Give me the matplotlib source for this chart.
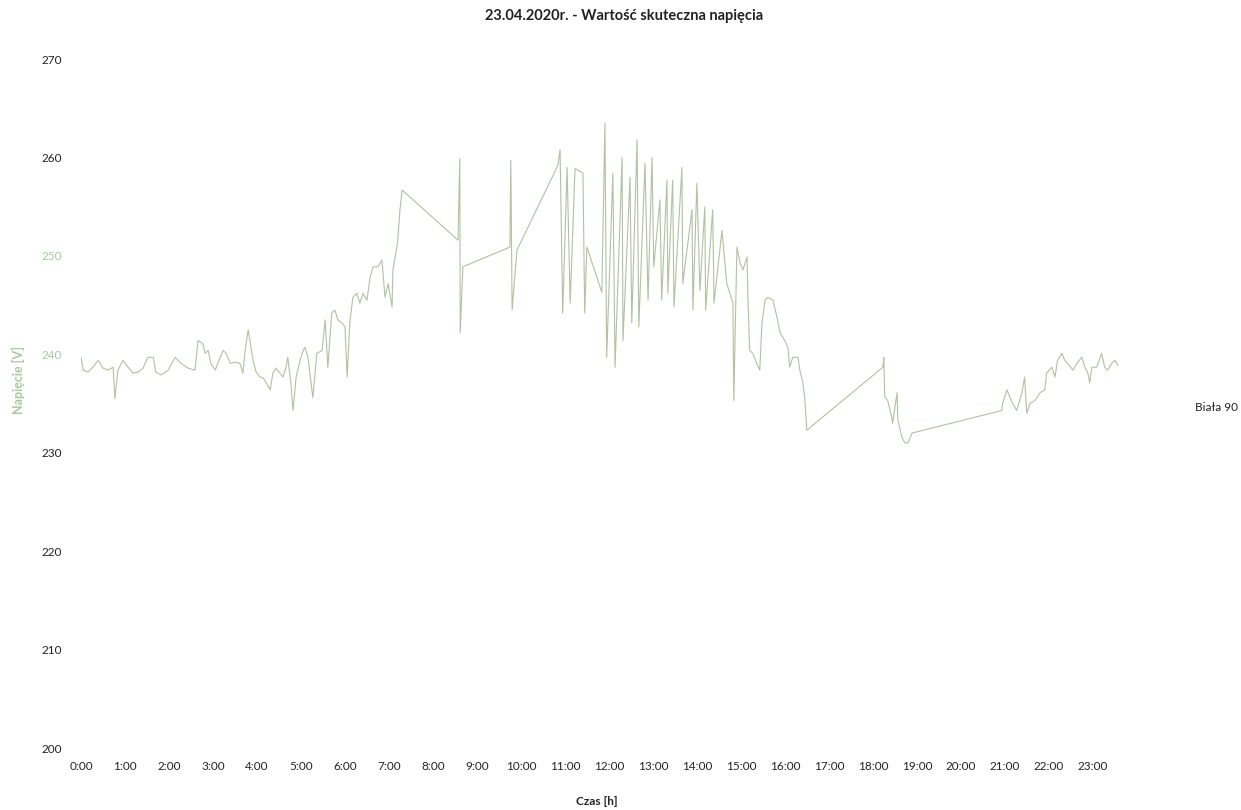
import matplotlib
matplotlib.use("Agg")
import matplotlib.pyplot as plt

plt.rcParams['font.family'] = ['Lato', 'DejaVu Sans']

title = "23.04.2020r. - Wartość skuteczna napięcia"
series_name = "Biała 90"
x_label = "Czas [h]"
y_label = "Napięcie [V]"

# measurement time [h] and RMS voltage [V]
hours = [
    0.00, 0.05, 0.16, 0.27, 0.39, 0.50, 0.61, 0.73, 0.77, 0.84, 0.95, 1.07, 1.18, 1.30,
    1.41, 1.52, 1.64, 1.70, 1.82, 1.98, 2.14, 2.27, 2.43, 2.59, 2.66, 2.77, 2.82, 2.89,
    2.95, 3.05, 3.11, 3.23, 3.30, 3.39, 3.50, 3.61, 3.68, 3.73, 3.80, 3.84, 3.91, 3.98,
    4.07, 4.14, 4.20, 4.30, 4.36, 4.43, 4.52, 4.59, 4.66, 4.70, 4.77, 4.82, 4.89, 4.98,
    5.05, 5.09, 5.16, 5.27, 5.36, 5.48, 5.55, 5.61, 5.70, 5.77, 5.84, 5.93, 6.00, 6.05,
    6.11, 6.18, 6.27, 6.34, 6.41, 6.50, 6.57, 6.64, 6.75, 6.84, 6.91, 6.98, 7.07, 7.09,
    7.18, 7.20, 7.25, 7.30, 8.57, 8.61, 8.62, 8.68, 9.75, 9.77, 9.80, 9.91, 10.84, 10.89,
    10.95, 11.05, 11.12, 11.23, 11.41, 11.45, 11.50, 11.84, 11.91, 11.95, 12.09, 12.14,
    12.30, 12.32, 12.48, 12.52, 12.64, 12.68, 12.82, 12.89, 12.98, 13.02, 13.16, 13.20,
    13.32, 13.34, 13.45, 13.48, 13.66, 13.68, 13.89, 13.91, 14.00, 14.07, 14.18, 14.20,
    14.36, 14.39, 14.57, 14.68, 14.82, 14.84, 14.91, 14.98, 15.05, 15.14, 15.16, 15.20,
    15.27, 15.36, 15.43, 15.48, 15.55, 15.61, 15.73, 15.82, 15.89, 16.00, 16.07, 16.11,
    16.18, 16.30, 16.34, 16.41, 16.45, 16.50, 18.23, 18.25, 18.27, 18.34, 18.43, 18.45,
    18.55, 18.57, 18.66, 18.73, 18.80, 18.89, 20.93, 20.95, 21.05, 21.11, 21.18, 21.27,
    21.39, 21.45, 21.50, 21.57, 21.68, 21.80, 21.91, 21.95, 22.07, 22.14, 22.20, 22.30,
    22.36, 22.43, 22.55, 22.64, 22.75, 22.82, 22.89, 22.93, 22.98, 23.09, 23.20, 23.27,
    23.34, 23.43, 23.50, 23.57,
]
voltage = [
    239.7, 238.4, 238.2, 238.7, 239.4, 238.6, 238.4, 238.7, 235.5, 238.4, 239.4, 238.7, 238.1, 238.2,
    238.6, 239.7, 239.7, 238.2, 237.9, 238.4, 239.7, 239.1, 238.6, 238.4, 241.4, 241.1, 240.1, 240.4,
    239.1, 238.4, 239.1, 240.4, 240.1, 239.1, 239.2, 239.1, 238.1, 240.4, 242.5, 241.4, 239.4, 238.2,
    237.7, 237.6, 237.2, 236.4, 238.1, 238.6, 238.1, 237.7, 238.7, 239.7, 237.1, 234.3, 237.7, 239.4,
    240.4, 240.7, 239.7, 235.6, 240.1, 240.4, 243.5, 238.7, 244.2, 244.5, 243.5, 243.2, 242.8, 237.7,
    243.2, 245.8, 246.2, 245.2, 246.2, 245.5, 247.8, 248.9, 248.9, 249.6, 245.8, 247.2, 244.8, 248.6,
    250.9, 251.6, 254.7, 256.7, 251.6, 259.9, 242.2, 248.9, 250.9, 259.7, 244.5, 250.6, 259.2, 260.8,
    244.2, 259.0, 245.2, 258.9, 258.4, 244.2, 250.9, 246.3, 263.5, 239.7, 258.4, 238.7,
    260.0, 241.4, 258.0, 243.2, 261.8, 242.8, 259.4, 245.5, 260.0, 248.9, 255.7, 245.5,
    257.7, 246.2, 257.7, 244.8, 259.0, 247.2, 254.7, 244.5, 257.4, 246.5, 255.0, 244.5,
    254.7, 245.2, 252.6, 247.2, 245.2, 235.3, 250.9, 249.3, 248.6, 249.9, 245.8, 240.4,
    240.1, 239.1, 238.4, 243.2, 245.5, 245.8, 245.5, 243.8, 242.2, 241.4, 240.7, 238.7,
    239.7, 239.7, 238.4, 237.1, 235.7, 232.3, 238.7, 239.7, 235.7, 235.3, 233.6, 233.0,
    236.1, 233.3, 231.6, 231.0, 231.0, 232.0, 234.3, 235.0, 236.4, 235.7, 235.0, 234.3,
    236.1, 237.7, 234.0, 235.0, 235.3, 236.1, 236.4, 238.1, 238.7, 237.7, 239.4, 240.1,
    239.4, 239.1, 238.4, 239.1, 239.7, 238.7, 238.1, 237.1, 238.7, 238.7, 240.1, 238.7,
    238.4, 239.1, 239.4, 238.9,
]

hour_ticks = list(range(24))
hour_labels = [f"{h}:00" for h in hour_ticks]
volt_ticks = [200, 210, 220, 230, 240, 250, 260, 270]

line_color = "#b0c2a0"
faded_green = "#a9c9a0"
text_color = "#222222"

fig = plt.figure(figsize=(12.41, 8.10), dpi=100)
ax = fig.add_axes([0.0653, 0.0765, 0.8507, 0.8505])

ax.plot(hours, voltage, color=line_color, lw=0.8, label=series_name)

ax.set_xlim(0, 24)
ax.set_ylim(200, 270)
ax.set_xticks(hour_ticks)
ax.set_xticklabels(hour_labels)
ax.set_yticks(volt_ticks)
ax.tick_params(axis='both', length=0, labelsize=8.5, colors=text_color)
ax.tick_params(axis='x', pad=9)
ax.tick_params(axis='y', pad=14)
for lbl in ax.get_yticklabels():
    if lbl.get_text() in ("240", "250"):
        lbl.set_color(faded_green)

for s in ax.spines.values():
    s.set_visible(False)

fig.text(0.503, 0.980, title, ha='center', va='center', fontsize=10.5, fontweight='bold', color=text_color)
fig.text(0.481, 0.011, x_label, ha='center', va='center', fontsize=8.5, fontweight='bold', color=text_color)
fig.text(0.0145, 0.531, y_label, ha='center', va='center', rotation=90, fontsize=9, fontweight='bold', color=faded_green)

leg = ax.legend(loc='center left', bbox_to_anchor=(1.045, 0.495), frameon=False,
                handlelength=0, handletextpad=0, fontsize=8.5)
for t in leg.get_texts():
    t.set_color(text_color)

fig.savefig("out.png", dpi=100, facecolor="white")
